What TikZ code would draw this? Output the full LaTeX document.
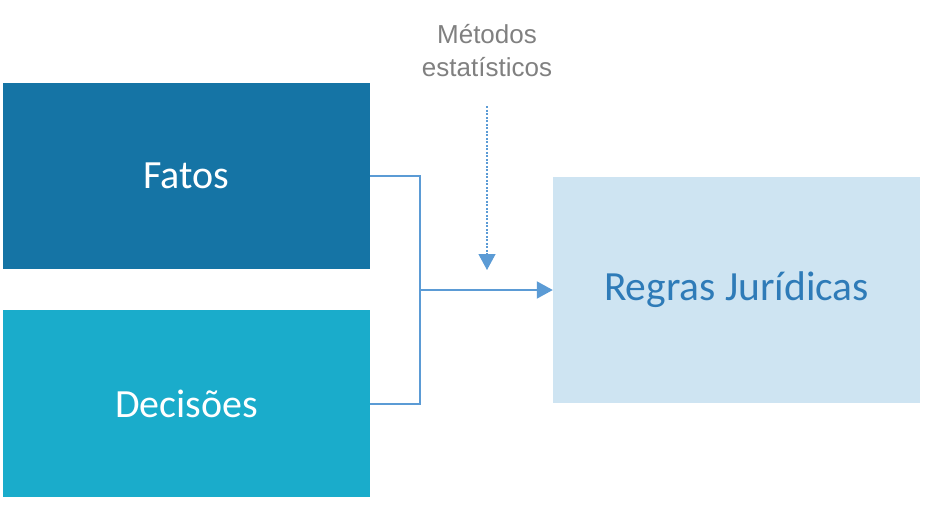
\documentclass[tikz,border=0pt]{standalone}
\usepackage{fontspec}
\setmainfont{Carlito}
\newfontfamily\arialfont{Liberation Sans}
\usetikzlibrary{arrows.meta}
\definecolor{fatoscor}{HTML}{1574A5}
\definecolor{decisoescor}{HTML}{1AACCB}
\definecolor{regrascor}{HTML}{CEE4F2}
\definecolor{regrastexto}{HTML}{2E7BB8}
\definecolor{linhacor}{HTML}{5B9BD5}
\definecolor{cinza}{HTML}{808080}
\begin{document}
\begin{tikzpicture}[x=1pt,y=-1pt,>={Triangle[length=16pt,width=17pt]},
  caixa/.style={rectangle,inner sep=0pt,minimum width=367pt,text=white,
    font=\fontsize{40}{48}\selectfont},
  linha/.style={draw=linhacor,line width=2pt},
  tracejada/.style={draw=linhacor,line width=1.2pt,dash pattern=on 2pt off 1.5pt}]
\useasboundingbox (0,0) rectangle (932,511);

\node[caixa,fill=fatoscor,minimum height=186pt](fatos) at (186.5,176){Fatos};
\node[caixa,fill=decisoescor,minimum height=187pt](decisoes) at (186.5,403.5){Decisões};
\node[caixa,fill=regrascor,minimum height=226pt,text=regrastexto,
  font=\fontsize{41.5}{49}\selectfont](regras) at (736.5,290){Regras Jurídicas};
\node[text=cinza,align=center,inner sep=0pt,
  font=\arialfont\fontsize{26}{33}\selectfont](metodos) at (487,51){Métodos\\estatísticos};

\coordinate (juncao) at (420,290);
\coordinate (alvo) at (487,270);
\draw[linha](fatos.east)-|(juncao)|-(decisoes.east);
\draw[linha,->](juncao)--(regras.west);
\draw[tracejada,->]([yshift=-29pt]metodos.south)--(alvo);
\end{tikzpicture}
\end{document}
